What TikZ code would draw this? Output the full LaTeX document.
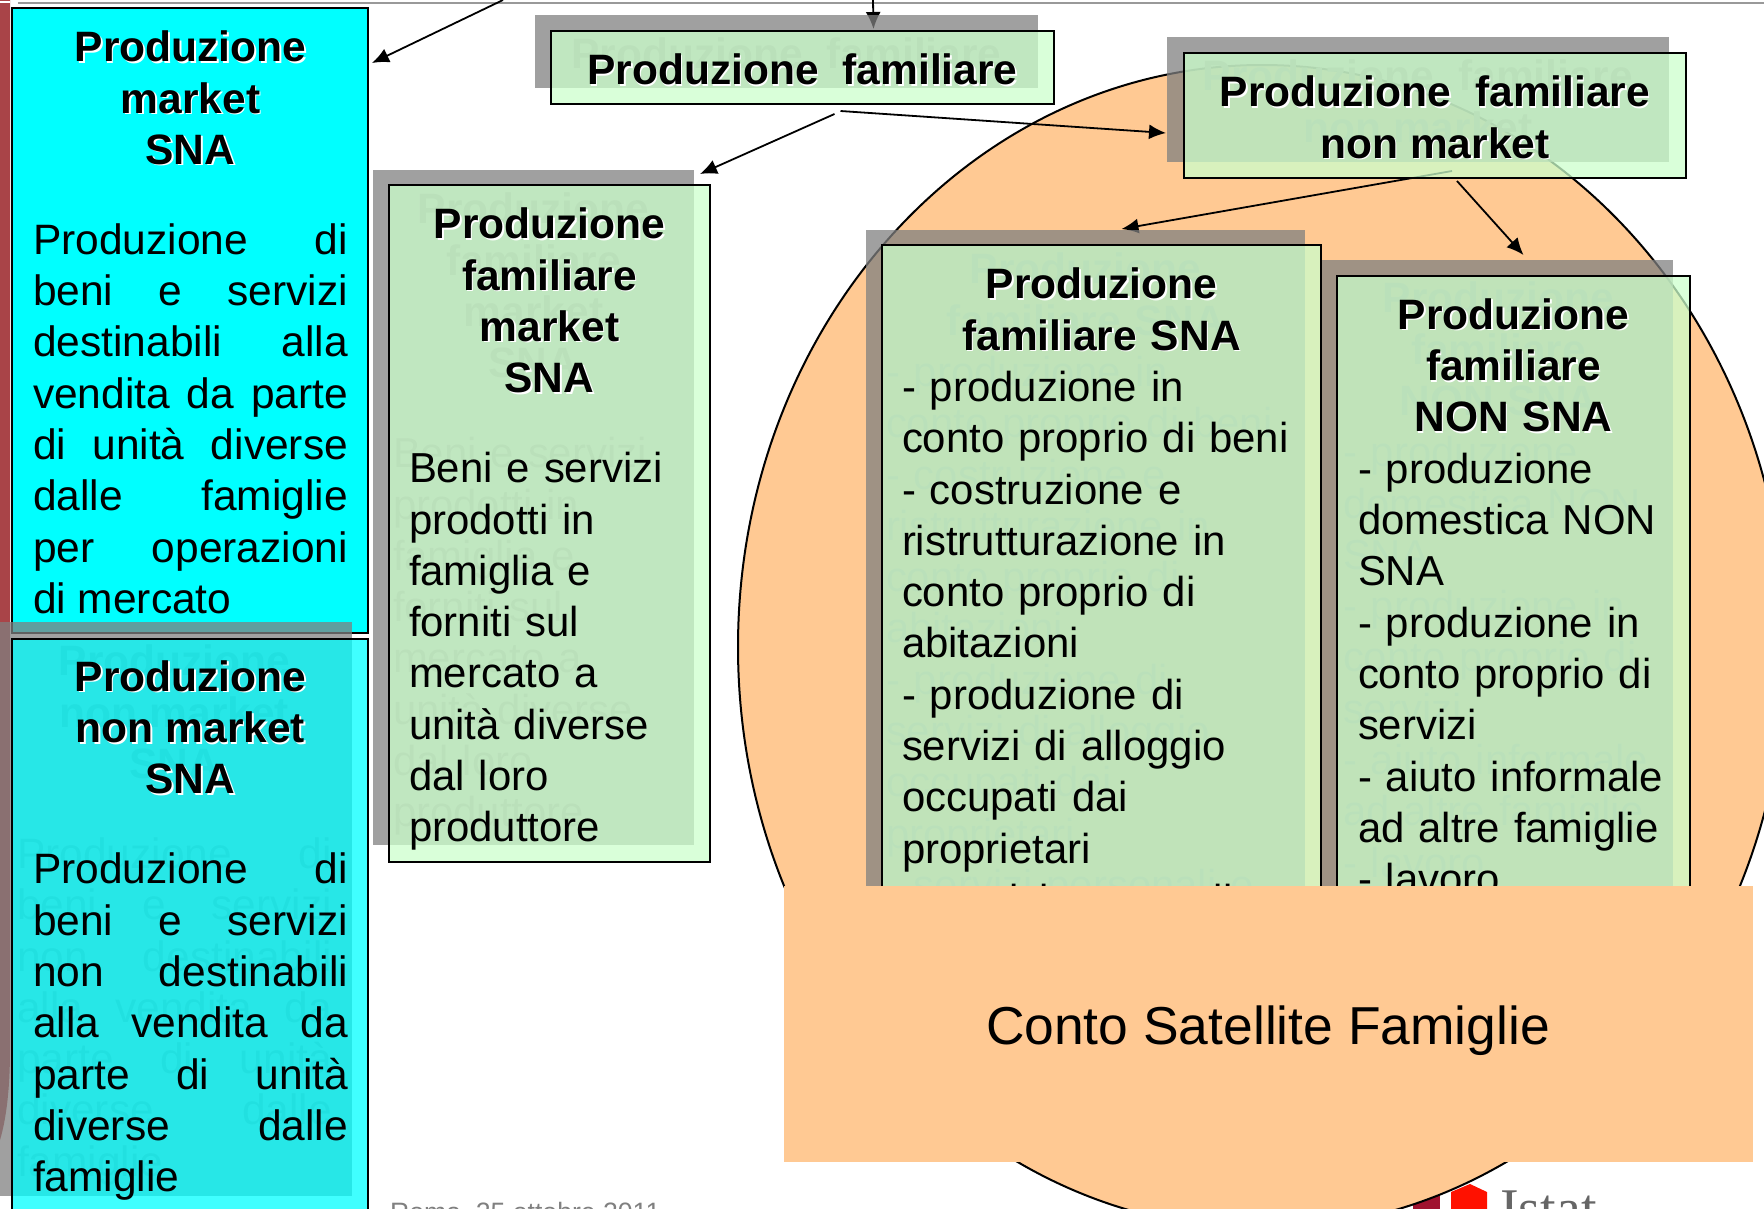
\documentclass[tikz,border=0pt]{standalone}
\usepackage{fontspec}
\setmainfont{Liberation Sans}
\newfontfamily\logofont{Liberation Serif}
\usepackage{xcolor}
\usetikzlibrary{positioning, arrows.meta, shapes.geometric}
\definecolor{peach}{HTML}{FFC993}
\definecolor{slidered}{HTML}{A94448}
\definecolor{softgreen}{HTML}{CCFFCC}
\definecolor{purecyan}{HTML}{00FFFF}
\definecolor{logodark}{HTML}{A0122F}
\definecolor{logored}{HTML}{FF1100}
\pgfdeclarelayer{wire}
\pgfsetlayers{wire,main}
\newcommand{\ttl}[1]{\textbf{\fontsize{42.5}{51.3}\selectfont\rlap{\raisebox{-1.5pt}{\hspace{1.5pt}\textcolor{white}{#1}}}#1}}
\newcommand{\plainttl}[1]{\textbf{\fontsize{42.5}{51.3}\selectfont #1}}
\newcommand{\txtFamily}{\ttl{Produzione\hspace{24pt}familiare}}
\newcommand{\txtNonMarket}{\ttl{Produzione\hspace{24pt}familiare}\\ \ttl{non market}}
\newcommand{\txtFamMarket}{{\centering \ttl{Produzione}\\ \ttl{familiare}\\ \ttl{market}\\ \ttl{SNA}\par}\vspace{38.7pt}
	Beni e servizi\\ prodotti in\\ famiglia e\\ forniti sul\\ mercato a\\ unità diverse\\ dal loro\\ produttore}
\newcommand{\txtFamSNA}{{\centering \ttl{Produzione}\\ \ttl{familiare SNA}\par}
	- produzione in\\ conto proprio di beni\\ - costruzione e\\ ristrutturazione in\\ conto proprio di\\ abitazioni\\ - produzione di\\ servizi di alloggio\\ occupati dai\\ proprietari\\ - servizi personali e}
\newcommand{\txtNonSNA}{{\centering \ttl{Produzione}\\ \ttl{familiare}\\ \ttl{NON SNA}\par}
	- produzione\\ domestica NON\\ SNA\\ - produzione in\\ conto proprio di\\ servizi\\ - aiuto informale\\ ad altre famiglie\\ - lavoro}
\newcommand{\txtSocial}{{\centering \ttl{Produzione}\\ \ttl{non market}\\ \ttl{SNA}\par}\vspace{38.7pt}
	Produzione di\linebreak beni e servizi\linebreak non destinabili\linebreak alla vendita da\linebreak parte di unità\linebreak diverse dalle\linebreak famiglie}
\tikzset{
	x=1pt, y=-1pt,
	flat/.style={anchor=north west, inner sep=0, outer sep=0},
	shade box/.style={flat, fill=black!50, fill opacity=.75},
	green box/.style={flat, draw=black, line width=2pt, fill=softgreen, fill opacity=.75},
	cyan box/.style={flat, draw=black, line width=2pt, fill=purecyan},
	words/.style={inner sep=0, outer sep=0, font=\fontsize{41.9}{51.3}\selectfont},
	wide words/.style={words, font=\fontsize{42.5}{51.3}\selectfont},
	ghost/.style={text=black!47, execute at begin node={\let\ttl\plainttl}},
	link/.style={-{Latex[length=17pt, width=15pt]}, line width=1.8pt}
}
\begin{document}
\begin{tikzpicture}
	\useasboundingbox (0,0) rectangle (1764,1208);
	% left column
	\node[cyan box, minimum width=356pt, minimum height=625pt] (Market) at (12,8) {};
	\node[wide words, text width=315pt, align=justify, anchor=north west, below right=23pt and 21pt of Market.north west] (Market text) {{\centering \ttl{Produzione}\\ \ttl{market}\\ \ttl{SNA}\par}\vspace{38.7pt}
		Produzione di\linebreak beni e servizi\linebreak destinabili alla\linebreak vendita da parte\linebreak di unità diverse\linebreak dalle famiglie\linebreak per operazioni\linebreak di mercato};
	\node[shade box, minimum width=356pt, minimum height=574pt] (Social shade) at (-4,622) {};
	\node[wide words, ghost, text width=315pt, align=justify, below right=23pt and 21pt of Social shade.north west] (Social ghost) {\txtSocial};
	\node[flat, draw=black, line width=2pt, fill=purecyan, fill opacity=.75, minimum width=356pt, minimum height=620pt] (Social) at (12,639) {};
	\node[wide words, text width=315pt, align=justify, below right=21.5pt and 21pt of Social.north west] (Social text) {\txtSocial};
	% family boxes
	\node[shade box, minimum width=321pt, minimum height=675pt] (FamMarket shade) at (373,170) {};
	\node[words, ghost, text width=281pt, align=left, below right=23pt and 20pt of FamMarket shade.north west] (FamMarket ghost) {\txtFamMarket};
	\node[green box, minimum width=321pt, minimum height=677pt] (FamMarket) at (389,185) {};
	\node[words, text width=281pt, align=left, below right=23pt and 20pt of FamMarket.north west] (FamMarket text) {\txtFamMarket};
	\node[shade box, minimum width=503pt, minimum height=73pt] (Family shade) at (535,15) {};
	\node[words, ghost, align=center, below=23pt of Family shade.north] (Family ghost) {\txtFamily};
	\node[green box, minimum width=503pt, minimum height=73pt] (Family) at (551,31) {};
	\node[words, align=center, below=23pt of Family.north] (Family text) {\txtFamily};
	\node[shade box, minimum width=502pt, minimum height=125pt] (NonMarket shade) at (1167,37) {};
	\node[words, ghost, align=center, below=23pt of NonMarket shade.north] (NonMarket ghost) {\txtNonMarket};
	\node[green box, minimum width=502pt, minimum height=125pt] (NonMarket) at (1184,53) {};
	\node[words, align=center, below=23pt of NonMarket.north] (NonMarket text) {\txtNonMarket};
	\node[shade box, minimum width=439pt, minimum height=780pt] (FamSNA shade) at (866,230) {};
	\node[words, ghost, text width=399pt, align=left, below right=23pt and 20pt of FamSNA shade.north west] (FamSNA ghost) {\txtFamSNA};
	\node[green box, minimum width=439pt, minimum height=780pt] (FamSNA) at (882,245) {};
	\node[words, text width=399pt, align=left, below right=23pt and 20pt of FamSNA.north west] (FamSNA text) {\txtFamSNA};
	\node[shade box, minimum width=351pt, minimum height=750pt] (NonSNA shade) at (1322,260) {};
	\node[words, ghost, text width=311pt, align=left, below right=22pt and 21pt of NonSNA shade.north west] (NonSNA ghost) {\txtNonSNA};
	\node[green box, minimum width=353pt, minimum height=750pt] (NonSNA) at (1337,276) {};
	\node[words, text width=311pt, align=left, below right=22.5pt and 21pt of NonSNA.north west] (NonSNA text) {\txtNonSNA};
	% cover
	\node[flat, fill=peach, minimum width=969pt, minimum height=276pt] (Satellite) at (784,886) {};
	\node[font=\fontsize{53.4}{60}\selectfont] (Satellite text) at (1268,1031) {Conto Satellite Famiglie};
	\node[font=\fontsize{26.6}{30}\selectfont, text=black!50, anchor=base west, inner sep=0] (Rome) at (390,1221) {Roma, 25 ottobre 2011};
	\node[font=\logofont\fontsize{56}{60}\selectfont, text=black!60, anchor=base west, inner sep=0] (Istat) at (1500,1227) {Istat};
	% behind the boxes
	\begin{pgfonlayer}{wire}
		\fill[slidered] (0,0) -- (10,0) -- (10,1050) .. controls (10,1090) and (6,1120) .. (0,1140) -- cycle;
		\fill[white] (0,1) rectangle (10,3);
		\draw[black!40, line width=2pt] (18,3) -- (1764,3);
		\fill[logodark] (1413,1180) rectangle (1440,1240);
		\fill[logored] (1451,1240) -- (1451,1192) -- (1470,1184) -- (1487,1192) -- (1487,1240) -- cycle;
		\node[draw=black, line width=2pt, fill=peach, ellipse, minimum width=1048pt, minimum height=1164pt, inner sep=0] (Account) at (1262,647) {};
		\coordinate (Upper left) at (503,0);
		\coordinate (Upper mid) at (873,0);
		\draw[link] (Upper left) -- ([shift={(4,55)}]Market.north east);
		\draw[link] (Upper mid) -- ([shift={(71,-2)}]Family.north);
		\draw[link] ([shift={(32,10)}]Family.south) -- ([shift={(-10,-11)}]FamMarket.north east);
		\draw[link] ([shift={(38,7)}]Family.south) -- ([shift={(-18,17.5)}]NonMarket.west);
		\draw[link] ([shift={(17,-7)}]NonMarket.south) -- ([shift={(20,-16)}]FamSNA.north);
		\draw[link] ([shift={(22,3)}]NonMarket.south) -- ([shift={(10,-21)}]NonSNA.north);
	\end{pgfonlayer}
\end{tikzpicture}
\end{document}
